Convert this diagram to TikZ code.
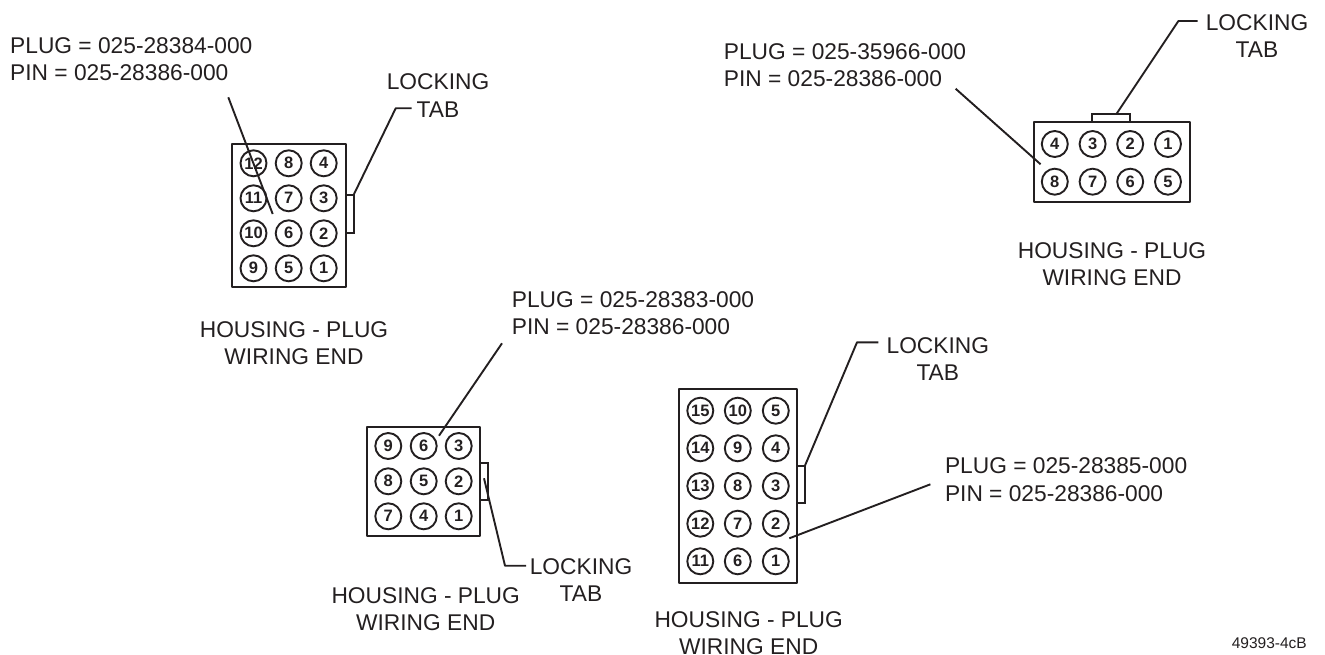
\documentclass[tikz,border=0pt]{standalone}
\usepackage{fontspec}
\setmainfont{Liberation Sans}
\definecolor{ink}{RGB}{35,31,32}
\tikzset{
  housing/.style={draw=ink, line width=2pt, line join=round, inner sep=0pt, outer sep=0pt},
  tab/.style={draw=ink, line width=1.9pt, inner sep=0pt, outer sep=0pt},
  pin/.style={circle, draw=ink, line width=1.9pt, minimum size=26pt, inner sep=0pt, text=ink, font=\fontsize{16.5pt}{18pt}\selectfont\bfseries},
  leader/.style={draw=ink, line width=1.9pt, line join=round},
  callout/.style={text=ink, inner sep=0pt, font=\fontsize{22.75pt}{27.2pt}\selectfont},
  partno/.style={callout, align=left, anchor=west},
  caption/.style={callout, align=center}
}
\begin{document}
\begin{tikzpicture}[x=1pt, y=-1pt]
  \useasboundingbox (0,0) rectangle (1325,655);

  % twelve way housing
  \node[housing, minimum width=113.5pt, minimum height=143pt] (hsgA) at (288.8,215.8) {};
  \node[tab, minimum width=8pt, minimum height=37.7pt, anchor=west] (tabA) at (hsgA.east |- 0,213.9) {};
  \node[pin] (a12) at (253.5,163.3) {12}; \node[pin] (a8) at (288.7,163.3) {8}; \node[pin] (a4) at (323.7,163.3) {4};
  \node[pin] (a11) at (253.5,198.3) {11}; \node[pin] (a7) at (288.7,198.3) {7}; \node[pin] (a3) at (323.7,198.3) {3};
  \node[pin] (a10) at (253.5,233.3) {10}; \node[pin] (a6) at (288.7,233.3) {6}; \node[pin] (a2) at (323.7,233.3) {2};
  \node[pin] (a9) at (253.5,268.3) {9}; \node[pin] (a5) at (288.7,268.3) {5}; \node[pin] (a1) at (323.7,268.3) {1};
  \node[partno] (partA) at (10,59.5) {PLUG = 025-28384-000\\PIN = 025-28386-000};
  \node[caption] (capA) at (294,343) {HOUSING - PLUG\\WIRING END};
  \node[caption] (lockA) at (438,95.5) {LOCKING\\TAB};
  \coordinate (fromA) at (228.3,97.3);
  \coordinate (toA) at (272.7,214);
  \coordinate (bendA) at (395.7,108.3);
  \coordinate (endA) at (411.7,108.3);
  \draw[leader] (fromA) -- (toA);
  \draw[leader] (tabA.north east) -- (bendA) -- (endA);

  % eight way housing
  \node[housing, minimum width=156pt, minimum height=80pt] (hsgB) at (1112,162) {};
  \node[tab, minimum width=37.9pt, minimum height=8pt, anchor=south] (tabB) at (1111.3,122) {};
  \node[pin] (b4) at (1054.8,144) {4}; \node[pin] (b3) at (1092.6,144) {3}; \node[pin] (b2) at (1130.2,144) {2}; \node[pin] (b1) at (1168,144) {1};
  \node[pin] (b8) at (1054.8,181.7) {8}; \node[pin] (b7) at (1092.6,181.7) {7}; \node[pin] (b6) at (1130.2,181.7) {6}; \node[pin] (b5) at (1168,181.7) {5};
  \node[partno] (partB) at (723.7,65) {PLUG = 025-35966-000\\PIN = 025-28386-000};
  \node[caption] (capB) at (1112,264.5) {HOUSING - PLUG\\WIRING END};
  \node[caption] (lockB) at (1257,36) {LOCKING\\TAB};
  \coordinate (fromB) at (955.6,88.7);
  \coordinate (toB) at (1040.6,164.3);
  \coordinate (startB) at (1116.4,114);
  \coordinate (bendB) at (1178.4,21);
  \coordinate (endB) at (1197.5,21);
  \draw[leader] (fromB) -- (toB);
  \draw[leader] (startB) -- (bendB) -- (endB);

  % nine way housing
  \node[housing, minimum width=113.3pt, minimum height=108.7pt] (hsgC) at (423.7,481.3) {};
  \node[tab, minimum width=8pt, minimum height=37.3pt, anchor=west] (tabC) at (hsgC.east |- 0,481.3) {};
  \node[pin] (c9) at (388.3,446) {9}; \node[pin] (c6) at (423.7,446) {6}; \node[pin] (c3) at (458.7,446) {3};
  \node[pin] (c8) at (388.3,481.3) {8}; \node[pin] (c5) at (423.7,481.3) {5}; \node[pin] (c2) at (458.7,481.3) {2};
  \node[pin] (c7) at (388.3,516.3) {7}; \node[pin] (c4) at (423.7,516.3) {4}; \node[pin] (c1) at (458.7,516.3) {1};
  \node[partno] (partC) at (511.7,313.3) {PLUG = 025-28383-000\\PIN = 025-28386-000};
  \node[caption] (capC) at (425.7,609) {HOUSING - PLUG\\WIRING END};
  \node[caption] (lockC) at (581,580) {LOCKING\\TAB};
  \coordinate (fromC) at (502,343.3);
  \coordinate (toC) at (439,435.7);
  \coordinate (startC) at (484,478.3);
  \coordinate (bendC) at (505,565.7);
  \coordinate (endC) at (526,565.7);
  \draw[leader] (fromC) -- (toC);
  \draw[leader] (startC) -- (bendC) -- (endC);

  % fifteen way housing
  \node[housing, minimum width=118.3pt, minimum height=194pt] (hsgD) at (738,486.3) {};
  \node[tab, minimum width=7.8pt, minimum height=37.6pt, anchor=west] (tabD) at (hsgD.east |- 0,484.5) {};
  \node[pin] (d15) at (700.3,410.7) {15}; \node[pin] (d10) at (737.8,410.7) {10}; \node[pin] (d5) at (775.8,410.7) {5};
  \node[pin] (d14) at (700.3,448.3) {14}; \node[pin] (d9) at (737.8,448.3) {9}; \node[pin] (d4) at (775.8,448.3) {4};
  \node[pin] (d13) at (700.3,486) {13}; \node[pin] (d8) at (737.8,486) {8}; \node[pin] (d3) at (775.8,486) {3};
  \node[pin] (d12) at (700.3,523.7) {12}; \node[pin] (d7) at (737.8,523.7) {7}; \node[pin] (d2) at (775.8,523.7) {2};
  \node[pin] (d11) at (700.3,561.3) {11}; \node[pin] (d6) at (737.8,561.3) {6}; \node[pin] (d1) at (775.8,561.3) {1};
  \node[partno] (partD) at (944.8,479.6) {PLUG = 025-28385-000\\PIN = 025-28386-000};
  \node[caption] (capD) at (748.7,633.2) {HOUSING - PLUG\\WIRING END};
  \node[caption] (lockD) at (937.8,358.8) {LOCKING\\TAB};
  \coordinate (fromD) at (930.4,484.3);
  \coordinate (toD) at (789.3,538.3);
  \coordinate (bendD) at (857,342.3);
  \coordinate (endD) at (878.4,342.3);
  \draw[leader] (fromD) -- (toD);
  \draw[leader] (tabD.north east) -- (bendD) -- (endD);

  \node[text=ink, inner sep=0pt, anchor=east, font=\fontsize{15.5pt}{18pt}\selectfont] (figno) at (1307,643) {49393-4cB};
\end{tikzpicture}
\end{document}
